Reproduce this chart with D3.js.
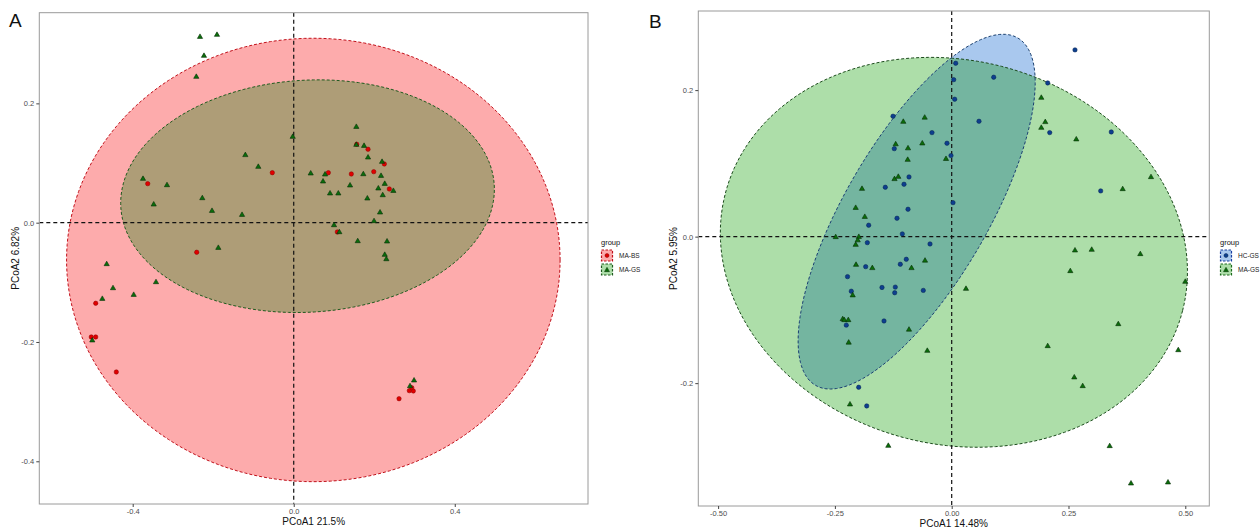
<!DOCTYPE html>
<html><head><meta charset="utf-8">
<script src="https://cdn.jsdelivr.net/npm/d3@7"></script>
<style>body{margin:0;background:#fff}svg{display:block;font-family:"Liberation Sans",Arial,sans-serif}</style>
</head><body><svg id="c" width="1260" height="529"></svg>
<script>
// ---------- data ----------
const aXTicks = [-0.4, 0, 0.4];
const aYTicks = [-0.4, -0.2, 0, 0.2];
const bXTicks = [-0.5, -0.25, 0, 0.25, 0.5];
const bYTicks = [-0.2, 0, 0.2];
const aGroups = ["MA-BS", "MA-GS"];
const bGroups = ["HC-GS", "MA-GS"];
const aTitles = ["PCoA1 21.5%", "PCoA2 6.82%"];
const bTitles = ["PCoA1 14.48%", "PCoA2 5.95%"];

// panel A, MA-BS (red circles)
const aMABS = [[-0.3627,0.0654],[-0.0532,0.0838],[0.0860,0.0838],[-0.2410,-0.0496],[0.1565,0.1314],
 [0.1846,0.1231],[0.2251,0.0984],[0.1431,0.0816],[0.1988,0.0855],[0.2375,0.0565],[0.1083,-0.0156],
 [-0.4919,-0.1351],[-0.5029,-0.1916],[-0.4919,-0.1916],[-0.4407,-0.2503],[0.2872,-0.2816],
 [0.2971,-0.2821],[0.2932,-0.2766],[0.2616,-0.2951]];
// panel A, MA-GS (green triangles)
const aMAGS = [[-0.2328,0.3118],[-0.1906,0.3152],[-0.2229,0.2800],[-0.2420,0.2448],[-0.0025,0.1442],
 [-0.1202,0.1136],[-0.0880,0.0939],[-0.3744,0.0738],[-0.3148,0.0632],[-0.2271,0.0414],[-0.3478,0.0308],
 [-0.2030,0.0201],[-0.1284,0.0134],[0.0422,0.0828],[0.0778,0.0811],[0.0728,0.0694],[0.0902,0.0493],
 [-0.1873,-0.0419],[-0.4646,-0.0692],[0.1555,0.1609],[0.1747,0.1291],[0.1846,0.1096],[0.2194,0.1023],
 [0.1729,0.0816],[0.2169,0.0788],[0.2261,0.0654],[0.1399,0.0627],[0.2102,0.0577],[0.2475,0.0536],
 [0.1108,0.0493],[0.2211,0.0464],[0.1829,0.0409],[0.2144,0.0174],[0.1995,0.0029],[0.1001,-0.0039],
 [0.1133,-0.0156],[0.1590,-0.0307],[0.2318,-0.0312],[0.2261,-0.0536],[0.2301,-0.0609],[0.1555,0.1308],
 [-0.3421,-0.0994],[-0.4489,-0.1095],[-0.3975,-0.1207],[-0.4755,-0.1274],[-0.5004,-0.1971],
 [0.2989,-0.2642],[0.2889,-0.2738]];
// panel B, HC-GS (blue circles)
const bHCGS = [[-0.1256,0.1644],[-0.0422,0.1420],[-0.0101,0.1275],[-0.1229,0.1201],[-0.0914,0.0815],
 [-0.1421,0.0674],[-0.1021,0.0715],[-0.0935,0.0374],[-0.1171,0.0251],[-0.1777,0.0156],[-0.1057,0.0037],
 [-0.1806,-0.0082],[-0.0464,-0.0100],[-0.0972,-0.0309],[-0.1100,-0.0377],[-0.1841,-0.0410],
 [-0.0015,0.1106],[0.0043,0.2143],[0.0086,0.2367],[0.0064,0.1876],[0.0584,0.1575],[0.0028,0.0464],
 [-0.2230,-0.0546],[-0.1207,-0.0689],[-0.1492,-0.0694],[-0.1220,-0.0766],[-0.0608,-0.0734],
 [-0.2149,-0.0745],[-0.2256,-0.1208],[-0.1449,-0.1151],[-0.1991,-0.2056],[-0.1819,-0.2311],
 [0.2639,0.2549],[0.0899,0.2176],[0.2055,0.2098],[0.2098,0.1420],[0.3416,0.1429],[0.3189,0.0624]];
// panel B, MA-GS (green triangles)
const bMAGS = [[-0.1036,0.1570],[-0.0578,0.1627],[-0.1199,0.1263],[-0.0935,0.1208],[-0.0629,0.1275],
 [-0.0942,0.1051],[-0.0122,0.1063],[-0.1224,0.0788],[-0.1143,0.0819],[-0.1920,0.0655],[-0.2055,0.0395],
 [-0.1860,0.0272],[-0.2483,-0.0004],[-0.1988,-0.0001],[-0.2012,-0.0048],[-0.2055,-0.0109],
 [-0.2048,-0.0382],[-0.1699,-0.0427],[-0.0860,-0.0427],[-0.0571,-0.0325],[-0.2119,-0.0799],
 [0.0306,-0.0710],[-0.2333,-0.1124],[-0.2299,-0.1137],[-0.2213,-0.1137],[-0.0914,-0.1267],
 [-0.2205,-0.1444],[-0.0522,-0.1556],[-0.2177,-0.2288],[-0.1357,-0.2853],[0.1918,0.1898],
 [0.2003,0.1566],[0.1918,0.1488],[0.2667,0.1330],[0.4266,0.0815],[0.3660,0.0651],[0.2639,-0.0186],
 [0.2997,-0.0177],[0.4037,-0.0236],[0.2539,-0.0468],[0.5000,-0.0614],[0.3566,-0.1192],
 [0.2055,-0.1492],[0.4850,-0.1547],[0.2624,-0.1919],[0.2804,-0.2038],[0.3382,-0.2857],
 [0.3838,-0.3367],[0.4630,-0.3353]];
// ellipses: [cx, cy, ux, uy, vx, vy] (center and conjugate semi-axis vectors, data units)
const aEllBS = [0.0487, -0.0625, 0.613, 0, 0, 0.3717];
const aEllGS = [0.0343, 0.0444, 0.4638, 0.0188, 0.0174, -0.1941];
const bEllHC = [-0.075, 0.0341, 0.2164, 0.2371, 0.1325, -0.0491];
const bEllGS = [0.0047, -0.0214, 0.4895, -0.0797, -0.1017, -0.2539];

// ---------- drawing ----------
const svg = d3.select("#c");
const T = d3.range(0, 361, 2).map(d => d * Math.PI / 180);
function ellPts(e){ return T.map(t => [e[0] + e[2]*Math.cos(t) + e[4]*Math.sin(t), e[1] + e[3]*Math.cos(t) + e[5]*Math.sin(t)]); }

function triPath(s){ const h = s*0.866; return `M0,${-h*0.62}L${s/2},${h*0.38}L${-s/2},${h*0.38}Z`; }

function panel(cfg){
  const g = svg.append("g");
  const x = d3.scaleLinear().domain(cfg.xDom).range([cfg.l, cfg.r]);
  const y = d3.scaleLinear().domain(cfg.yDom).range([cfg.b, cfg.t]);
  const line = d3.line().x(d => x(d[0])).y(d => y(d[1]));
  const cid = "clip" + cfg.id;
  const defs = g.append("defs");
  defs.append("clipPath").attr("id", cid).append("rect")
    .attr("x", cfg.l).attr("y", cfg.t).attr("width", cfg.r - cfg.l).attr("height", cfg.b - cfg.t);
  const p = g.append("g").attr("clip-path", `url(#${cid})`);
  // ellipses
  const e1 = ellPts(cfg.ell[0]), e2 = ellPts(cfg.ell[1]);
  p.append("path").attr("d", line(e1)).attr("fill", cfg.fill[0]);
  p.append("path").attr("d", line(e2)).attr("fill", cfg.fill[1]);
  if (cfg.overlap){
    defs.append("clipPath").attr("id", cid + "o").append("path").attr("d", line(e1));
    p.append("path").attr("d", line(e2)).attr("fill", cfg.overlap).attr("clip-path", `url(#${cid}o)`);
  }
  p.append("path").attr("d", line(e1)).attr("fill", "none").attr("stroke", cfg.stroke[0])
    .attr("stroke-width", 1).attr("stroke-dasharray", "3,2");
  p.append("path").attr("d", line(e2)).attr("fill", "none").attr("stroke", cfg.stroke[1])
    .attr("stroke-width", 1).attr("stroke-dasharray", "3,2");
  // reference lines
  p.append("line").attr("x1", x(0)).attr("x2", x(0)).attr("y1", cfg.t).attr("y2", cfg.b)
    .attr("stroke", "#111").attr("stroke-width", 1.2).attr("stroke-dasharray", "4,3");
  p.append("line").attr("y1", y(0)).attr("y2", y(0)).attr("x1", cfg.l).attr("x2", cfg.r)
    .attr("stroke", "#111").attr("stroke-width", 1.2).attr("stroke-dasharray", "4,3");
  // points: circles then triangles
  p.selectAll("circle.pt").data(cfg.circ).join("circle").attr("class", "pt")
    .attr("cx", d => x(d[0])).attr("cy", d => y(d[1])).attr("r", 2.2)
    .attr("fill", cfg.circCol).attr("stroke", cfg.circStroke).attr("stroke-width", 0.5);
  p.selectAll("path.tri").data(cfg.tri).join("path").attr("class", "tri")
    .attr("transform", d => `translate(${x(d[0])},${y(d[1])})`).attr("d", triPath(5.2))
    .attr("fill", "#0a6e0a").attr("stroke", "#062e06").attr("stroke-width", 0.6);
  // frame
  g.append("rect").attr("x", cfg.l).attr("y", cfg.t).attr("width", cfg.r - cfg.l).attr("height", cfg.b - cfg.t)
    .attr("fill", "none").attr("stroke", "#9a9a9a").attr("stroke-width", 1);
  // axes
  const ax = g.append("g").attr("transform", `translate(0,${cfg.b})`)
    .call(d3.axisBottom(x).tickValues(cfg.xTicks).tickSize(3).tickPadding(1.5).tickFormat(cfg.fmtX));
  const ay = g.append("g").attr("transform", `translate(${cfg.l},0)`)
    .call(d3.axisLeft(y).tickValues(cfg.yTicks).tickSize(3).tickPadding(2).tickFormat(cfg.fmtY));
  [ax, ay].forEach(a => {
    a.select(".domain").remove();
    a.selectAll(".tick line").attr("stroke", "#444");
    a.selectAll(".tick text").attr("fill", "#4d4d4d").attr("font-size", 7.5).attr("font-family", "Liberation Sans, Arial, sans-serif");
  });
  // titles
  g.append("text").attr("x", (cfg.l + cfg.r)/2).attr("y", cfg.b + 20.5).attr("text-anchor", "middle")
    .attr("font-size", 10).attr("fill", "#111").text(cfg.titles[0]);
  g.append("text").attr("transform", `translate(${cfg.ytx},${(cfg.t + cfg.b)/2}) rotate(-90)`)
    .attr("text-anchor", "middle").attr("font-size", 10).attr("fill", "#111").text(cfg.titles[1]);
  g.append("text").attr("x", cfg.lab[1]).attr("y", cfg.lab[2]).attr("font-size", 19).attr("fill", "#111").text(cfg.lab[0]);
  // legend
  const L = g.append("g").attr("transform", `translate(${cfg.leg[0]},${cfg.leg[1]})`);
  L.append("text").attr("x", 0).attr("y", 0).attr("font-size", 7.5).attr("fill", "#111").text("group");
  cfg.groups.forEach((name, i) => {
    const k = L.append("g").attr("transform", `translate(0,${5 + i*14})`);
    k.append("rect").attr("x", 0.5).attr("y", 0).attr("width", 11).attr("height", 11)
      .attr("fill", cfg.legFill[i]).attr("stroke", cfg.legStroke[i]).attr("stroke-dasharray", "2.5,1.5").attr("stroke-width", 1.2);
    if (i === 0){
      k.append("circle").attr("cx", 6).attr("cy", 5.5).attr("r", 2).attr("fill", cfg.circCol).attr("stroke", cfg.circStroke).attr("stroke-width", 0.5);
    } else {
      k.append("path").attr("transform", "translate(6,6)").attr("d", triPath(5)).attr("fill", "#0a6e0a").attr("stroke", "#062e06").attr("stroke-width", 0.5);
    }
    k.append("text").attr("x", 18).attr("y", 8).attr("font-size", 6.5).attr("fill", "#222").text(name);
  });
}

panel({
  id: "A", l: 39.3, r: 588, t: 12.7, b: 504, xDom: [-0.632, 0.731], yDom: [-0.4716, 0.352],
  xTicks: aXTicks, yTicks: aYTicks, fmtX: d => d.toFixed(1), fmtY: d => d.toFixed(1),
  ell: [aEllBS, aEllGS], fill: ["#fdabac", "#ae9d77"], stroke: ["#c0101a", "#1e5a1e"], overlap: null,
  legFill: ["#fdabac", "#addea9"], legStroke: ["#c0101a", "#1e5a1e"],
  circ: aMABS, tri: aMAGS, circCol: "#e00000", circStroke: "#8a0000",
  titles: aTitles, ytx: 19, lab: ["A", 9, 27], leg: [601, 245], groups: aGroups
});
panel({
  id: "B", l: 698.3, r: 1209.3, t: 11, b: 506, xDom: [-0.5424, 0.5514], yDom: [-0.3677, 0.308],
  xTicks: bXTicks, yTicks: bYTicks, fmtX: d => d.toFixed(2), fmtY: d => d.toFixed(1),
  ell: [bEllGS, bEllHC], fill: ["#addea9", "#a9c8ee"], stroke: ["#1c4a1c", "#1a3f6e"], overlap: "#74b5a0",
  legFill: ["#a9c8ee", "#addea9"], legStroke: ["#1a3f9e", "#1c6a1c"],
  circ: bHCGS, tri: bMAGS, circCol: "#0d3f8f", circStroke: "#06224f",
  titles: bTitles, ytx: 677, lab: ["B", 649, 28], leg: [1220, 245], groups: bGroups
});
</script></body></html>
